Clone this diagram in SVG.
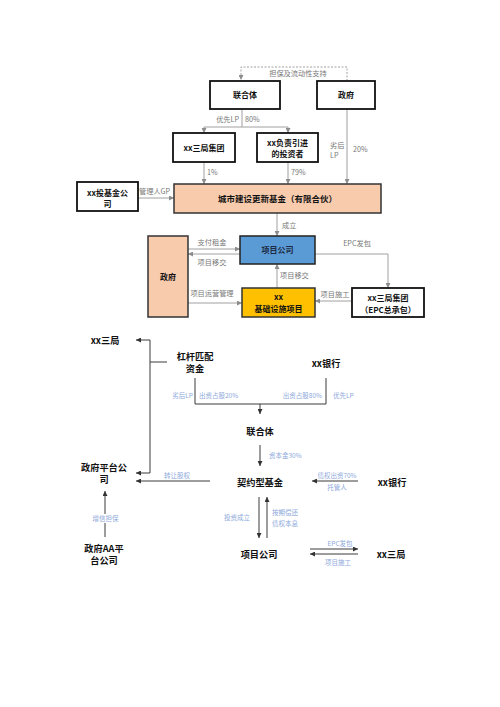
<svg xmlns="http://www.w3.org/2000/svg" width="500" height="707" viewBox="0 0 500 707">
<defs>
<marker id="ag" viewBox="0 0 10 10" refX="10" refY="5" markerWidth="5" markerHeight="5" markerUnits="userSpaceOnUse" orient="auto"><path d="M0,0 L10,5 L0,10 z" fill="#8c8c8c"/></marker>
<marker id="ad" viewBox="0 0 10 10" refX="10" refY="5" markerWidth="5" markerHeight="5" markerUnits="userSpaceOnUse" orient="auto"><path d="M0,0 L10,5 L0,10 z" fill="#333"/></marker>
</defs>
<style>
text{font-family:"Noto Sans CJK SC","Liberation Sans",sans-serif}
.box{fill:#fff;stroke:#111;stroke-width:1.8}
.org{fill:#F8CBAD;stroke:#333;stroke-width:1.5}
.blu{fill:#5B9BD5;stroke:#222;stroke-width:1.5}
.gld{fill:#FFC000;stroke:#333;stroke-width:1.5}
.bt{font-size:8px;font-weight:bold;fill:#111;text-anchor:middle}
.lb{font-size:7.2px;fill:#777}
.c{text-anchor:middle}
.e{text-anchor:end}
.gl{fill:none;stroke:#a0a0a0;stroke-width:1}
.dl{fill:none;stroke:#3a3a3a;stroke-width:1}
.bb{font-size:9.2px;font-weight:bold;fill:#111;text-anchor:middle}
.bl{font-size:6.5px;fill:#8EA9DB}
</style>
<rect width="500" height="707" fill="#fff"/>

<g id="connectors">
<path class="gl" d="M347,81 V67 H241 V80" stroke-dasharray="2,1.5" marker-end="url(#ag)"/>
<path class="gl" d="M242,109 V127 M204,127 H288"/>
<path class="gl" d="M204,127 V133" marker-end="url(#ag)"/>
<path class="gl" d="M288,127 V133" marker-end="url(#ag)"/>
<path class="gl" d="M204,162 V184" marker-end="url(#ag)"/>
<path class="gl" d="M288,162 V184" marker-end="url(#ag)"/>
<path class="gl" d="M347,109 V184" marker-end="url(#ag)"/>
<path class="gl" d="M138,198 H174" stroke-width="1.5" marker-end="url(#ag)"/>
<path class="gl" d="M277,213 V236" marker-end="url(#ag)"/>
<path class="gl" d="M188,249 H240" marker-end="url(#ag)"/>
<path class="gl" d="M240,254 H188" marker-end="url(#ag)"/>
<path class="gl" d="M277,288 V264" marker-end="url(#ag)"/>
<path class="gl" d="M188,303 H242" marker-end="url(#ag)"/>
<path class="gl" d="M315,254 H388 V288" marker-end="url(#ag)"/>
<path class="gl" d="M352,301 H315" marker-end="url(#ag)"/>

<path class="dl" d="M167,362 H150 V340 H136" marker-end="url(#ad)"/>
<path class="dl" d="M150,362 V473 H136" marker-end="url(#ad)"/>
<path class="dl" d="M195,378 V404 H326 V378"/>
<path class="dl" d="M260,404 V414" marker-end="url(#ad)"/>
<path class="dl" d="M260,445 V466" marker-end="url(#ad)"/>
<path class="dl" d="M210,481 H136" marker-end="url(#ad)"/>
<path class="dl" d="M358,481 H312" marker-end="url(#ad)"/>
<path class="dl" d="M259,497 V538" marker-end="url(#ad)"/>
<path class="dl" d="M267,538 V497" marker-end="url(#ad)"/>
<path class="dl" d="M105,537 V491" marker-end="url(#ad)"/>
<path class="dl" d="M310,549 H358" marker-end="url(#ad)"/>
<path class="dl" d="M358,554 H310" marker-end="url(#ad)"/>
</g>

<g id="labels">
<text class="lb c" x="298" y="75.5">担保及流动性支持</text>
<text class="lb e" x="239" y="121.5">优先LP</text>
<text class="lb" x="245" y="121.5">80%</text>
<text class="lb" x="207" y="174.5">1%</text>
<text class="lb" x="291" y="174.5">79%</text>
<text class="lb" x="330" y="147.5">劣后</text>
<text class="lb" x="330" y="157.5">LP</text>
<text class="lb" x="353" y="151.5">20%</text>
<text class="lb" x="139" y="193.5">管理人GP</text>
<text class="lb" x="282" y="227.5">成立</text>
<text class="lb c" x="212" y="244.5">支付租金</text>
<text class="lb c" x="212" y="264.5">项目移交</text>
<text class="lb" x="280" y="277.5">项目移交</text>
<text class="lb c" x="212" y="295.5">项目运营管理</text>
<text class="lb c" x="357" y="245.5">EPC发包</text>
<text class="lb c" x="335" y="296.5">项目施工</text>

<text class="bl e" x="193" y="398">劣后LP</text>
<text class="bl" x="199" y="398">出资占股20%</text>
<text class="bl e" x="322" y="398">出资占股80%</text>
<text class="bl" x="333" y="398">优先LP</text>
<text class="bl" x="269" y="458">资本金30%</text>
<text class="bl c" x="177" y="478">转让股权</text>
<text class="bl c" x="337" y="478">债权出资70%</text>
<text class="bl c" x="337" y="490">托管人</text>
<text class="bl c" x="237" y="520">投资成立</text>
<text class="bl" x="272" y="515">按期偿还</text>
<text class="bl" x="272" y="526">债权本息</text>
<rect x="92" y="514" width="27" height="9" fill="#fff"/>
<text class="bl c" x="105.5" y="521">增信担保</text>
<text class="bl c" x="340" y="546">EPC发包</text>
<text class="bl c" x="338" y="565">项目施工</text>
</g>

<g id="n-lianheti"><rect class="box" x="210" y="81" width="70" height="28"/><text class="bt" x="245" y="98">联合体</text></g>
<g id="n-zhengfu1"><rect class="box" x="317" y="81" width="58" height="28"/><text class="bt" x="346" y="98">政府</text></g>
<g id="n-sanju"><rect class="box" x="173" y="133" width="62" height="29"/><text class="bt" x="204" y="150.8">xx三局集团</text></g>
<g id="n-touzizhe"><rect class="box" x="257" y="133" width="61" height="29"/><text class="bt" x="287.5" y="145.5">xx负责引进</text><text class="bt" x="287.5" y="156.5">的投资者</text></g>
<g id="n-tjj"><rect class="box" x="77" y="182" width="61" height="29"/><text class="bt" x="107.5" y="195.5">xx投基金公</text><text class="bt" x="107.5" y="206.5">司</text></g>
<g id="n-fund"><rect class="org" x="174" y="184" width="207" height="29"/><text class="bt" x="277.5" y="201.5" style="font-size:8.5px">城市建设更新基金（有限合伙）</text></g>
<g id="n-xmgs"><rect class="blu" x="240" y="236" width="75" height="28"/><text class="bt" x="277.5" y="253" style="fill:#1c2a44">项目公司</text></g>
<g id="n-zhengfu2"><rect class="org" x="148" y="236" width="40" height="81"/><text class="bt" x="168" y="280">政府</text></g>
<g id="n-jcss"><rect class="gld" x="242" y="288" width="73" height="29"/><text class="bt" x="278.5" y="300">xx</text><text class="bt" x="278.5" y="312">基础设施项目</text></g>
<g id="n-epc"><rect class="box" x="352" y="288" width="72" height="29"/><text class="bt" x="388" y="301">xx三局集团</text><text class="bt" x="388" y="313">（EPC总承包）</text></g>

<g id="b-sanju1"><text class="bb" x="105" y="343.5">xx三局</text></g>
<g id="b-ganggan"><text class="bb" x="195" y="359.5">杠杆匹配</text><text class="bb" x="195" y="372">资金</text></g>
<g id="b-yinhang1"><text class="bb" x="326" y="366.5">xx银行</text></g>
<g id="b-lianheti"><text class="bb" x="260" y="434.5">联合体</text></g>
<g id="b-ptgs"><text class="bb" x="104" y="470.5">政府平台公</text><text class="bb" x="104" y="483">司</text></g>
<g id="b-qyjj"><text class="bb" x="260" y="485.5">契约型基金</text></g>
<g id="b-yinhang2"><text class="bb" x="392" y="485.5">xx银行</text></g>
<g id="b-aa"><text class="bb" x="104" y="551.5">政府AA平</text><text class="bb" x="104" y="564">台公司</text></g>
<g id="b-xmgs"><text class="bb" x="259" y="557.5">项目公司</text></g>
<g id="b-sanju2"><text class="bb" x="391" y="557.5">xx三局</text></g>
</svg>
